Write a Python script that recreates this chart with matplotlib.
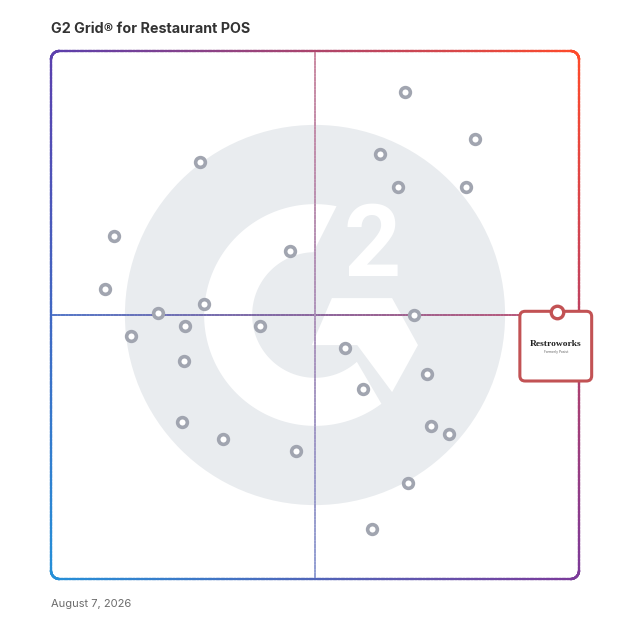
import numpy as np
import matplotlib
matplotlib.use("Agg")
import matplotlib.pyplot as plt
from matplotlib.collections import LineCollection
from matplotlib.patches import Circle, Polygon, FancyBboxPatch
from matplotlib.colors import to_rgb

# vendor positions on the grid (0-100 both ways, 50 = crosshair)
satisfaction = [67.0, 80.3, 62.3, 28.2, 65.7, 78.6, 11.9, 45.3, 10.2, 29.0, 20.3, 68.8, 25.4,
                39.6, 15.2, 55.7, 25.2, 71.2, 59.1, 24.8, 72.0, 75.4, 32.6, 46.4, 67.6, 60.8]
market_presence = [92.2, 83.3, 80.5, 79.0, 74.2, 74.2, 65.0, 62.1, 54.9, 52.1, 50.4, 50.0, 47.9,
                   47.9, 46.0, 43.8, 41.3, 38.8, 36.0, 29.7, 29.0, 27.5, 26.5, 24.2, 18.2, 9.5]
featured_name = "Restroworks"
featured_sub = "Formerly Posist"
featured_xy = (95.8, 50.6)

title = "G2 Grid® for Restaurant POS"
date_label = "August 7, 2026"

# corner colours of the gradient frame
c_tl = np.array(to_rgb("#5b3fad"))
c_tr = np.array(to_rgb("#ff4a2a"))
c_bl = np.array(to_rgb("#2590d8"))
c_br = np.array(to_rgb("#7b3a9a"))


def grad(u, v, fade=1.0):
    u = np.clip(u, 0, 1)
    v = np.clip(v, 0, 1)
    c = ((1 - u) * (1 - v) * c_bl + u * (1 - v) * c_br
         + (1 - u) * v * c_tl + u * v * c_tr)
    return c * fade + (1 - fade)


def rounded_rect(x0, y0, x1, y1, r, n=30):
    pts = []
    corners = [(x1 - r, y1 - r, 0), (x0 + r, y1 - r, 90), (x0 + r, y0 + r, 180), (x1 - r, y0 + r, 270)]
    for cx, cy, a0 in corners:
        a = np.radians(np.linspace(a0, a0 + 90, n))
        pts += list(zip(cx + r * np.cos(a), cy + r * np.sin(a)))
    pts.append(pts[0])
    return np.array(pts)


def grad_line(ax, pts, lw, fade=1.0, z=3):
    # densify so the colour changes smoothly
    dense = [pts[0]]
    for p, q in zip(pts[:-1], pts[1:]):
        k = max(2, int(np.hypot(*(q - p)) * 2))
        for t in np.linspace(0, 1, k)[1:]:
            dense.append(p + (q - p) * t)
    dense = np.array(dense)
    segs = np.stack([dense[:-1], dense[1:]], axis=1)
    mid = segs.mean(axis=1)
    cols = [grad(m[0] / 100, m[1] / 100, fade) for m in mid]
    lc = LineCollection(segs, colors=cols, linewidths=lw, capstyle="projecting",
                        zorder=z, clip_on=False)
    ax.add_collection(lc)


fig = plt.figure(figsize=(6.28, 6.28), dpi=100)
fig.patch.set_facecolor("white")
ax = fig.add_axes([51 / 628, 49 / 628, 528 / 628, 528 / 628])
ax.set_xlim(0, 100)
ax.set_ylim(0, 100)
ax.axis("off")

# G2 watermark
ax.add_patch(Circle((50, 50), 36.0, color="#e9ecef", zorder=1, lw=0))
r_out, r_in = 21.0, 11.9
a_out = np.radians(np.linspace(78.8, 306.8, 200))
a_in = np.radians(np.linspace(311.8, 91.5, 200))
ring = np.vstack([np.c_[50 + r_out * np.cos(a_out), 50 + r_out * np.sin(a_out)],
                  np.c_[50 + r_in * np.cos(a_in), 50 + r_in * np.sin(a_in)]])
ax.add_patch(Polygon(ring, closed=True, color="white", lw=0, zorder=1.5))
chevron = [(49.4, 44.3), (53.2, 53.2), (64.6, 53.2), (69.5, 44.3), (64.6, 35.4), (58.0, 44.3)]
ax.add_patch(Polygon(chevron, closed=True, color="white", lw=0, zorder=1.5))
ax.text(60.8, 62.5, "2", color="white", fontsize=72, fontweight="bold",
        family="Roboto", ha="center", va="center", zorder=1.6)

# crosshair
grad_line(ax, np.array([[0, 50], [100, 50]]), 1.3, fade=0.9, z=2)
grad_line(ax, np.array([[50, 0], [50, 100]]), 1.2, fade=0.65, z=2)

# frame
grad_line(ax, rounded_rect(0, 0, 100, 100, 1.6), 1.6, z=3)

# vendors
ax.plot(satisfaction, market_presence, "o", ms=7, mfc="white", mec="#a1a5b0",
        mew=2.6, zorder=5, ls="none")

# featured vendor card
card = FancyBboxPatch((88.8, 37.5), 13.6, 13.2, boxstyle="round,pad=0,rounding_size=1.0",
                      fc="white", ec="#c25254", lw=2.2, zorder=6, clip_on=False)
ax.add_patch(card)
ax.plot([featured_xy[0]], [featured_xy[1]], "o", ms=9, mfc="white", mec="#c25254",
        mew=2.4, zorder=7, clip_on=False)
ax.text(95.6, 44.6, featured_name, family="Liberation Serif", fontweight="bold",
        fontsize=6.8, color="#222222", ha="center", va="center", zorder=8, clip_on=False)
ax.text(95.6, 42.9, featured_sub, family="DejaVu Sans", fontsize=2.3,
        color="#666666", ha="center", va="center", zorder=8, clip_on=False)

fig.text(51 / 628, 1 - 29 / 628, title, family="Inter", fontweight="bold",
         fontsize=10.3, color="#333333", ha="left", va="center")
fig.text(51 / 628, 1 - 604 / 628, date_label, family="Inter", fontsize=8,
         color="#6b6b6b", ha="left", va="center")

fig.savefig("out.png", dpi=100, facecolor="white")
